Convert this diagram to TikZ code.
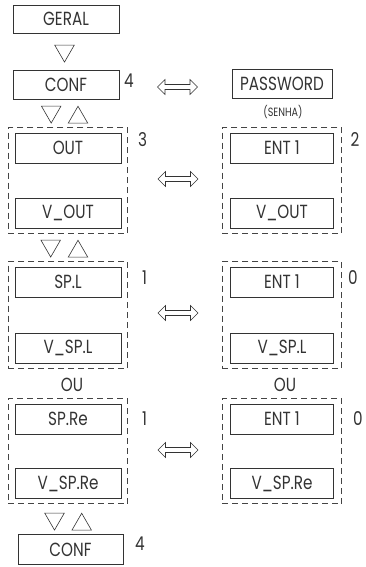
\documentclass[tikz,border=0pt]{standalone}
\usepackage{fontspec}
\setmainfont{Poppins}[FakeStretch=0.8]
\usetikzlibrary{shapes.geometric, shapes.arrows, positioning, fit}

\begin{document}
\begin{tikzpicture}[
    x=1pt, y=-1pt,
    every node/.style={font=\fontsize{19}{21}\selectfont},
]

% ---------------------------------------------------------------- colours
\definecolor{ink}{HTML}{333333}    % boxes, symbols and texts
\definecolor{dashcolor}{HTML}{444444}

\tikzset{
    menubox/.style={rectangle, draw=ink, line width=0.7pt, text=ink,
                    minimum width=106pt, minimum height=30pt, inner sep=0pt},
    groupbox/.style={rectangle, draw=dashcolor, line width=0.8pt,
                     dash pattern=on 6pt off 4pt, inner xsep=6.5pt, inner ysep=5pt},
    levelnum/.style={text=ink},
    downtri/.style={regular polygon, regular polygon sides=3, shape border rotate=180,
                    draw=ink, line width=0.6pt, minimum size=22.5pt, inner sep=0pt},
    uptri/.style={regular polygon, regular polygon sides=3,
                  draw=ink, line width=0.6pt, minimum size=22.5pt, inner sep=0pt},
    swaparrow/.style={double arrow, draw=ink, line width=0.6pt, minimum height=40pt,
                      minimum width=15pt, double arrow head extend=4pt,
                      double arrow head indent=0pt, inner sep=1.7pt},
}

\useasboundingbox (0,0) rectangle (365,567);

% ================================================================
% GEOMETRY (1pt = one pixel of the reference, y downwards)
%   left column   x = 15 .. 121
%   right column  x = 230 .. 333
%   swap arrows   x = 177.5
% ================================================================

% ---------------------------------------------------------------- top of the menu
\node[menubox, minimum height=28pt] (geral) at (66, 19) {GERAL};
\node[downtri] (geralDown) at (64.5, 50.8) {};
\node[menubox, minimum height=29pt] (conf) at (66, 84.5) {CONF};
\node[levelnum] (confNum) at (129, 81) {4};

\node[swaparrow] (confSwap) at (177.5, 87) {};
\node[menubox, minimum width=100pt, minimum height=29pt] (password) at (282, 84) {PASSWORD};
\node[text=ink, font=\fontsize{12}{14}\selectfont] (senha) at (283, 112) {(SENHA)};

% ---------------------------------------------------------------- parameter groups
% name / top y / bottom y / left top / left bottom / right bottom
%      / left num / num x / right num / num x / num y / arrow y
\foreach \g/\ya/\yb/\la/\lb/\rb/\nl/\xl/\nr/\xr/\ny/\ay in {%
    out/148/213/OUT/V\_OUT/V\_OUT/3/142.5/2/355/140/179,
    spl/282/348/SP.L/V\_SP.L/V\_SP.L/1/144.5/0/353/278/313,
    spre/419/483.5/SP.Re/V\_SP.Re/V\_SP.Re/1/144.5/0/358/418.5/450%
} {
    % left: the parameter and its value
    \node[menubox] (\g Top) at (68, \ya) {\la};
    \node[menubox] (\g Val) at (68, \yb) {\lb};
    \node[groupbox, fit=(\g Top)(\g Val)] (\g Group) {};
    \node[levelnum] (\g Num) at (\xl, \ny) {\nl};

    % right: the entry and its value
    \node[menubox, minimum width=103pt] (\g Ent) at (282, \ya) {ENT 1};
    \node[menubox, minimum width=103pt] (\g EntVal) at (282, \yb) {\rb};
    \node[groupbox, inner xsep=8pt, fit=(\g Ent)(\g EntVal)] (\g EntGroup) {};
    \node[levelnum] (\g EntNum) at (\xr, \ny) {\nr};

    \node[swaparrow] (\g Swap) at (178, \ay) {};
}

% ---------------------------------------------------------------- alternatives
\node[text=ink] (ouLeft) at (72, 385) {OU};
\node[text=ink] (ouRight) at (285, 385) {OU};

% ---------------------------------------------------------------- navigation keys
% name / down x / up x / y (centre of the down key)
\foreach \k/\xd/\xu/\y in {conf/51.2/78/111.8, out/50.7/78/245.8, spre/54.5/81.7/518.8} {
    \node[downtri] (\k Down) at (\xd, \y) {};
    \node[uptri] (\k Up) at (\xu, \y+5.7) {};
}

% ---------------------------------------------------------------- back to the start
\node[menubox, minimum width=105pt] (confEnd) at (70.5, 549.5) {CONF};
\node[levelnum] (confEndNum) at (140, 543.5) {4};

\end{tikzpicture}
\end{document}
